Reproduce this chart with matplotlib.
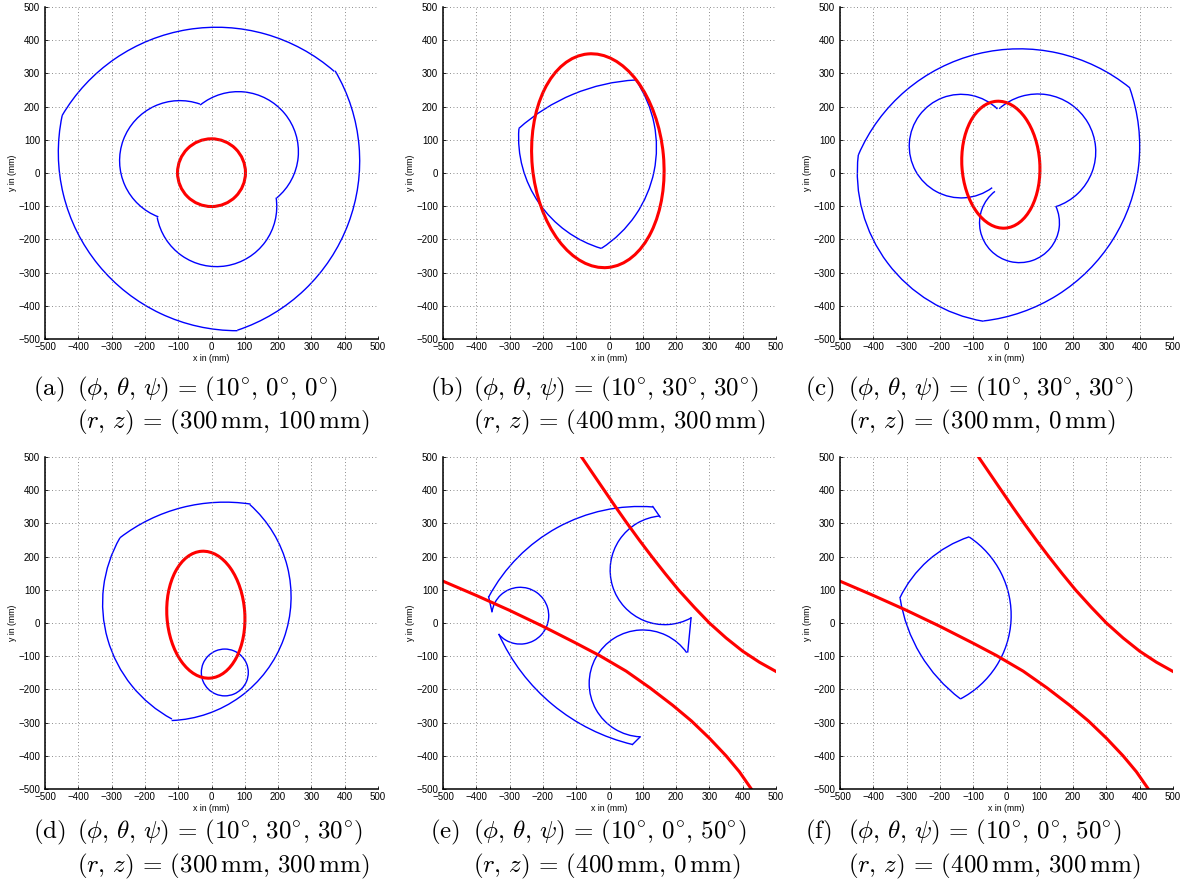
import matplotlib
matplotlib.use('Agg')
import matplotlib.pyplot as plt
from matplotlib.patches import Arc, Ellipse

plt.rcParams['font.family'] = ['Liberation Sans', 'DejaVu Sans']
plt.rcParams['mathtext.fontset'] = 'cm'

# blue boundary arcs per panel: centre x, centre y, radius, start/end angle (deg)
a_cx = [15, -92, 77, 80, -95, 15]
a_cy = [-98, 36, 62, 64, 37, -101]
a_r = [537, 537, 537, 181, 181, 181]
a_t1 = [48.8, -71.6, 168.2, -50.2, 70.5, 190.4]
a_t2 = [149.8, 30.4, 270.1, 129.0, 249.1, 368.5]

b_cx = [110, -221, 76]
b_cy = [-290, 77, 107]
b_r = [571, 362, 349]
b_t1 = [93.1, -57.1, 175.7]
b_t2 = [132.1, 34.1, 253.3]

c_cx = [39, -129, 7, -136, 94, 39]
c_cy = [-152, 80, 2, 81, 64, -150]
c_r = [526, 529, 455, 156, 174, 120]
c_t1 = [50.9, -83.5, 173.4, 45.8, -71.4, 127.9]
c_t2 = [156.9, 19.4, 260.4, 306.6, 131.8, 384.9]

d_cx = [40, -134, 70, 40]
d_cy = [-152, 79, 60, -149]
d_r = [516, 373, 397, 70.5]
d_t1 = [81.4, -87.8, 150.3, 0]
d_t2 = [127.6, 48.1, 241.6, 360]

e_cx = [91, 166, 100, 206, -268]
e_cy = [-163, 159, -182, 208, 22]
e_r = [514, 164, 161, 590, 85.5]
e_t1 = [85.6, 95.0, 35.1, 204.1, 220.2]
e_t2 = [151.9, 298.9, 267.2, 256.6, 532.0]

f_cx = [1, -270, 146]
f_cy = [-78, 23, 147]
f_r = [356, 284, 471]
f_t1 = [108.5, -62.5, 188.9]
f_t2 = [154.7, 56.2, 232.8]

# short straight blue pieces in panel (e)
e_seg_x = [[130, 152], [245, 235], [92, 69], [-353, -363]]
e_seg_y = [[351, 319], [16, -87], [-343, -366], [34, 79]]

# red ellipses: centre x, centre y, width, height, angle
ell_a = (0, 1, 204, 204, 0)
ell_b = (-35, 37, 395, 646, 5.4)
ell_c = (-17, 25, 234, 383, 3.8)
ell_d = (-17, 25, 234, 383, 3.8)

# red curves in panels (e) and (f)
hyp_up_x = [-84, -50, -16, 18, 53, 90, 127, 167, 207, 255, 300, 350, 400, 450, 500]
hyp_up_y = [500, 450, 400, 350, 300, 249, 200, 149, 100, 47, 0, -45, -85, -118, -146]
hyp_lo_x = [-500, -400, -300, -200, -100, -30, 50, 121, 190, 246, 300, 350, 390, 426]
hyp_lo_y = [126, 83, 38, -10, -61, -98, -145, -195, -248, -295, -347, -400, -448, -500]

captions = ['(a)', '(b)', '(c)', '(d)', '(e)', '(f)']
line1 = [r'$(\phi,\,\theta,\,\psi)\,=\,(10^{\circ},\,0^{\circ},\,0^{\circ})$',
         r'$(\phi,\,\theta,\,\psi)\,=\,(10^{\circ},\,30^{\circ},\,30^{\circ})$',
         r'$(\phi,\,\theta,\,\psi)\,=\,(10^{\circ},\,30^{\circ},\,30^{\circ})$',
         r'$(\phi,\,\theta,\,\psi)\,=\,(10^{\circ},\,30^{\circ},\,30^{\circ})$',
         r'$(\phi,\,\theta,\,\psi)\,=\,(10^{\circ},\,0^{\circ},\,50^{\circ})$',
         r'$(\phi,\,\theta,\,\psi)\,=\,(10^{\circ},\,0^{\circ},\,50^{\circ})$']
line2 = [r'$(r,\,z)\,=\,(300\,\mathrm{mm},\,100\,\mathrm{mm})$',
         r'$(r,\,z)\,=\,(400\,\mathrm{mm},\,300\,\mathrm{mm})$',
         r'$(r,\,z)\,=\,(300\,\mathrm{mm},\,0\,\mathrm{mm})$',
         r'$(r,\,z)\,=\,(300\,\mathrm{mm},\,300\,\mathrm{mm})$',
         r'$(r,\,z)\,=\,(400\,\mathrm{mm},\,0\,\mathrm{mm})$',
         r'$(r,\,z)\,=\,(400\,\mathrm{mm},\,300\,\mathrm{mm})$']

W, H = 1188, 888
fig = plt.figure(figsize=(W / 100, H / 100), dpi=100)

ax_left = [45, 443, 840, 45, 443, 840]
ax_top = [7, 7, 7, 457, 457, 457]
ax_w, ax_h = 333, 332
cap_x = [33, 430, 805, 33, 430, 805]
math_x = [77, 473, 848, 77, 473, 848]
cap_y1 = [389, 389, 389, 832, 832, 832]
cap_y2 = [422, 422, 422, 866, 866, 866]

arcs = [(a_cx, a_cy, a_r, a_t1, a_t2), (b_cx, b_cy, b_r, b_t1, b_t2),
        (c_cx, c_cy, c_r, c_t1, c_t2), (d_cx, d_cy, d_r, d_t1, d_t2),
        (e_cx, e_cy, e_r, e_t1, e_t2), (f_cx, f_cy, f_r, f_t1, f_t2)]
ellipses = [ell_a, ell_b, ell_c, ell_d, None, None]

ticks = list(range(-500, 501, 100))

for i in range(6):
    ax = fig.add_axes([ax_left[i] / W, 1 - (ax_top[i] + ax_h) / H, ax_w / W, ax_h / H])
    ax.set_xlim(-500, 500)
    ax.set_ylim(-500, 500)
    ax.set_xticks(ticks)
    ax.set_yticks(ticks)
    ax.grid(True, color='0.4', linestyle=(0, (1, 3)), linewidth=0.6)
    ax.tick_params(direction='in', length=2.5, width=0.6, labelsize=7, top=False, right=False)
    ax.tick_params(axis='x', pad=2.5)
    ax.tick_params(axis='y', pad=3.5)
    for s in ['top', 'right']:
        ax.spines[s].set_visible(False)
    for s in ['left', 'bottom']:
        ax.spines[s].set_linewidth(1.1)
    ax.set_xlabel('x in (mm)', fontsize=6.3, labelpad=1)
    ax.set_ylabel('y in (mm)', fontsize=6.3, labelpad=1)

    cx, cy, r, t1, t2 = arcs[i]
    for k in range(len(cx)):
        ax.add_patch(Arc((cx[k], cy[k]), 2 * r[k], 2 * r[k], theta1=t1[k], theta2=t2[k],
                         color='#0000ff', lw=1.0))
    if i == 4:
        for sx, sy in zip(e_seg_x, e_seg_y):
            ax.plot(sx, sy, color='#0000ff', lw=1.0)
    if ellipses[i] is not None:
        ex, ey, ew, eh, ea = ellipses[i]
        ax.add_patch(Ellipse((ex, ey), ew, eh, angle=ea, fill=False, ec='#ff0000', lw=2.2))
    else:
        ax.plot(hyp_up_x, hyp_up_y, color='#ff0000', lw=2.2)
        ax.plot(hyp_lo_x, hyp_lo_y, color='#ff0000', lw=2.2)

    fig.text(cap_x[i] / W, 1 - cap_y1[i] / H, r'$\mathrm{' + captions[i] + '}$',
             fontsize=18, va='center', ha='left')
    fig.text(math_x[i] / W, 1 - cap_y1[i] / H, line1[i], fontsize=18, va='center', ha='left')
    fig.text(math_x[i] / W, 1 - cap_y2[i] / H, line2[i], fontsize=18, va='center', ha='left')

fig.savefig('out.png', dpi=100)
